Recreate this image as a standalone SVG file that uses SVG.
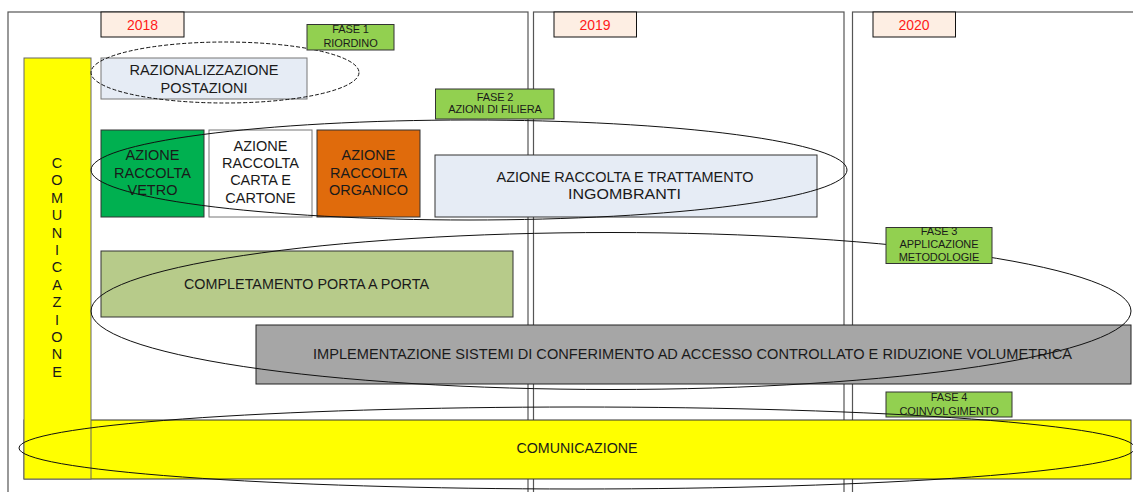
<svg xmlns="http://www.w3.org/2000/svg" width="1133" height="492" viewBox="0 0 1133 492">
<style>
text{font-family:"Liberation Sans",Arial,sans-serif;fill:#1a1a1a;text-anchor:middle}
.frame{fill:none;stroke:#555;stroke-width:1.2}
.year{fill:#fdeee3;stroke:#111;stroke-width:1}
.yt{fill:#ff1a1a;font-size:14px}
.fase{fill:#92d050;stroke:#333;stroke-width:1}
.ft{font-size:11px;letter-spacing:-0.1px}
.bt{font-size:14.5px}
.lt{font-size:14.8px}
.ell{fill:none;stroke:#111;stroke-width:1}
</style>
<rect width="1133" height="492" fill="#fff"/>
<g id="panels">
<rect class="frame" x="8" y="12" width="520" height="490"/>
<rect class="frame" x="533.5" y="12" width="310.5" height="490"/>
<rect class="frame" x="852.5" y="12" width="300" height="490"/>
</g>
<g id="razionalizzazione">
<rect x="101" y="58" width="206" height="41" fill="#e6ecf5" stroke="#777"/>
<text class="lt" x="204" y="74.5" textLength="149" lengthAdjust="spacingAndGlyphs">RAZIONALIZZAZIONE</text>
<text class="lt" x="204" y="93" textLength="87" lengthAdjust="spacingAndGlyphs">POSTAZIONI</text>
</g>
<g id="vetro">
<rect x="101" y="130" width="103" height="87" fill="#00b050" stroke="#333"/>
<text class="bt" x="152.5" y="160">AZIONE</text>
<text class="bt" x="152.5" y="177.5">RACCOLTA</text>
<text class="bt" x="152.5" y="194.5">VETRO</text>
</g>
<g id="carta">
<rect x="209" y="130" width="103" height="87" fill="#fff" stroke="#777"/>
<text class="bt" x="260.5" y="151">AZIONE</text>
<text class="bt" x="260.5" y="168">RACCOLTA</text>
<text class="bt" x="260.5" y="185">CARTA E</text>
<text class="bt" x="260.5" y="203">CARTONE</text>
</g>
<g id="organico">
<rect x="317" y="130" width="103" height="87" fill="#e06b0c" stroke="#333"/>
<text class="bt" x="368.5" y="160">AZIONE</text>
<text class="bt" x="368.5" y="177.5">RACCOLTA</text>
<text class="bt" x="368.5" y="194.5">ORGANICO</text>
</g>
<g id="ingombranti">
<rect x="435" y="155" width="382" height="62" fill="#e6ecf5" stroke="#333"/>
<text class="bt" x="625" y="181.5" textLength="257" lengthAdjust="spacingAndGlyphs">AZIONE RACCOLTA E TRATTAMENTO</text>
<text class="bt" x="624.5" y="199" textLength="113" lengthAdjust="spacingAndGlyphs">INGOMBRANTI</text>
</g>
<g id="porta-a-porta">
<rect x="101" y="251" width="412" height="66" fill="#b7cb8a" stroke="#333"/>
<text class="lt" x="306.5" y="288.5" textLength="245" lengthAdjust="spacingAndGlyphs">COMPLETAMENTO PORTA A PORTA</text>
</g>
<g id="implementazione">
<rect x="256" y="325" width="875" height="59" fill="#a6a6a6" stroke="#222"/>
<text class="lt" x="692.5" y="359" textLength="759" lengthAdjust="spacingAndGlyphs">IMPLEMENTAZIONE SISTEMI DI CONFERIMENTO AD ACCESSO CONTROLLATO E RIDUZIONE VOLUMETRICA</text>
</g>
<g id="comunicazione-bottom">
<rect x="24" y="420" width="1107" height="59" fill="#ffff00" stroke="#333"/>
<text x="577" y="453" font-size="14.4" textLength="121" lengthAdjust="spacingAndGlyphs">COMUNICAZIONE</text>
</g>
<g id="comunicazione-side">
<rect x="24" y="58" width="67" height="421" fill="#ffff00" stroke="#666"/>
<text class="bt" x="57" y="168">C</text>
<text class="bt" x="57" y="185.4">O</text>
<text class="bt" x="57" y="202.8">M</text>
<text class="bt" x="57" y="220.2">U</text>
<text class="bt" x="57" y="237.6">N</text>
<text class="bt" x="57" y="255">I</text>
<text class="bt" x="57" y="272.4">C</text>
<text class="bt" x="57" y="289.8">A</text>
<text class="bt" x="57" y="307.2">Z</text>
<text class="bt" x="57" y="324.6">I</text>
<text class="bt" x="57" y="342">O</text>
<text class="bt" x="57" y="359.4">N</text>
<text class="bt" x="57" y="376.8">E</text>
</g>
<g id="fase4">
<rect class="fase" x="886" y="392" width="126" height="25"/>
<text class="ft" x="949" y="400.5">FASE 4</text>
<text class="ft" x="949" y="414.5">COINVOLGIMENTO</text>
</g>
<g id="connectors">
<ellipse class="ell" cx="225" cy="72.5" rx="134" ry="30.5" stroke-dasharray="4 2"/>
<ellipse class="ell" cx="469" cy="170" rx="378" ry="50"/>
<ellipse class="ell" cx="611" cy="311" rx="520" ry="78.5"/>
<ellipse class="ell" cx="577" cy="448" rx="558" ry="41"/>
</g>
<g id="fase1">
<rect class="fase" x="307" y="24.5" width="87" height="25.5"/>
<text class="ft" x="350.5" y="33">FASE 1</text>
<text class="ft" x="350.5" y="47">RIORDINO</text>
</g>
<g id="fase2">
<rect class="fase" x="435.5" y="89" width="118.5" height="30"/>
<text class="ft" x="495" y="100.5">FASE 2</text>
<text class="ft" x="495" y="113">AZIONI DI FILIERA</text>
</g>
<g id="fase3">
<rect class="fase" x="886" y="227.5" width="106" height="36"/>
<text class="ft" x="939" y="235">FASE 3</text>
<text class="ft" x="939" y="248">APPLICAZIONE</text>
<text class="ft" x="939" y="260.5">METODOLOGIE</text>
</g>
<g id="year2018">
<rect class="year" x="101" y="12" width="83" height="25"/>
<text class="yt" x="142.5" y="29.5">2018</text>
</g>
<g id="year2019">
<rect class="year" x="554" y="12" width="82.5" height="25"/>
<text class="yt" x="595" y="29.5">2019</text>
</g>
<g id="year2020">
<rect class="year" x="873" y="12" width="82.5" height="25"/>
<text class="yt" x="914" y="29.5">2020</text>
</g>
</svg>
